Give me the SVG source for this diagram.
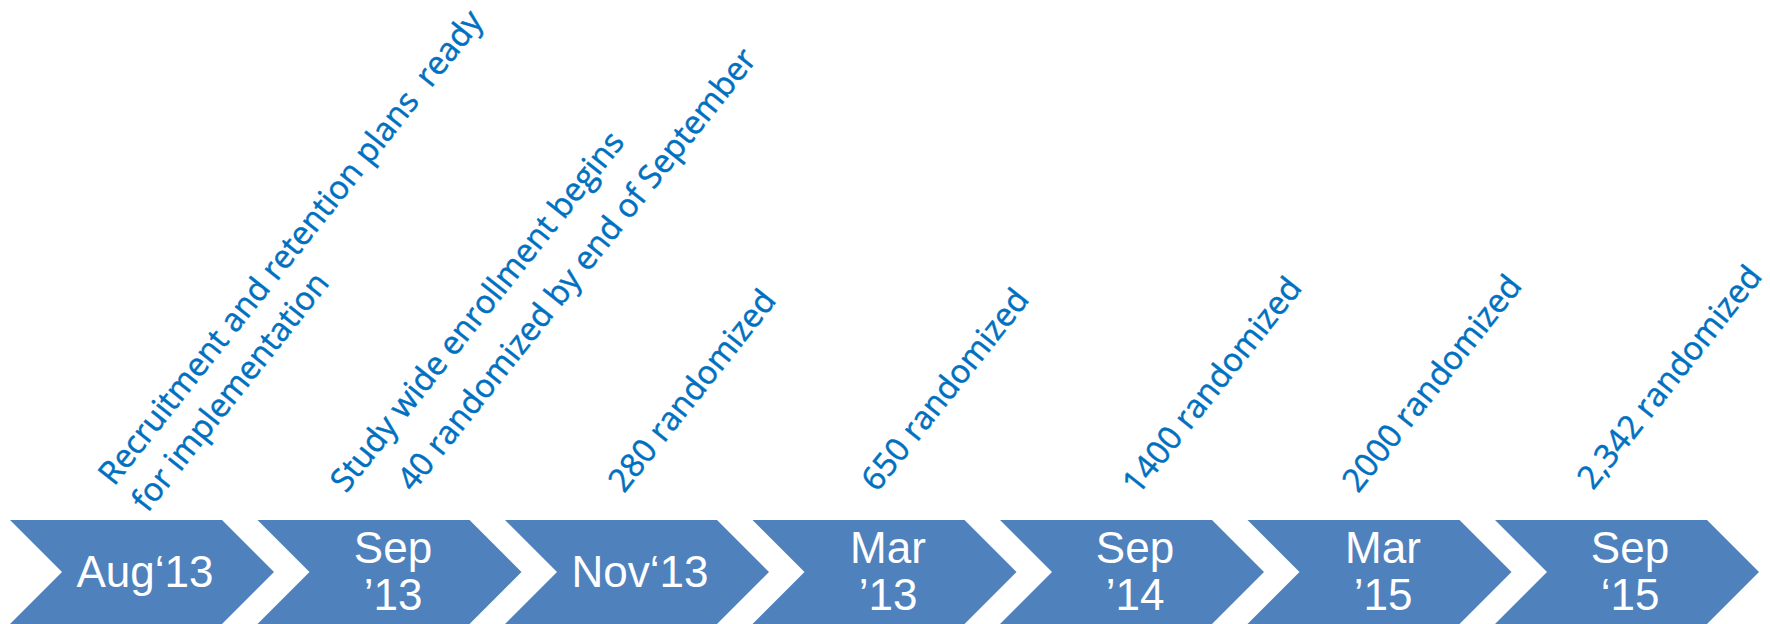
<svg xmlns="http://www.w3.org/2000/svg" width="1770" height="624" viewBox="0 0 1770 624">
<style>
.chev{fill:#4F81BD}
.date{font-family:"Liberation Sans",Arial,sans-serif;font-size:44px;fill:#FFFFFF;text-anchor:middle}
.note{font-family:"Open Sans","Noto Sans",sans-serif;font-size:32.5px;fill:#0070C0;stroke:#0070C0;stroke-width:0.5px;white-space:pre}
</style>
<defs>
<polygon id="chevron" points="0,520 212,520 264,572 212,624 0,624 52,572"/>
</defs>
<rect width="1770" height="624" fill="#FFFFFF"/>
<g id="connectors"></g>
<g id="node-aug13">
<use href="#chevron" class="chev" x="10"/>
<text class="date" x="145" y="587">Aug‘13</text>
</g>
<g id="node-sep13">
<use href="#chevron" class="chev" x="257.5"/>
<text class="date" x="393" y="563">Sep</text>
<text class="date" x="393" y="610">’13</text>
</g>
<g id="node-nov13">
<use href="#chevron" class="chev" x="505"/>
<text class="date" x="640" y="587">Nov‘13</text>
</g>
<g id="node-mar13">
<use href="#chevron" class="chev" x="752.5"/>
<text class="date" x="888" y="563">Mar</text>
<text class="date" x="888" y="610">’13</text>
</g>
<g id="node-sep14">
<use href="#chevron" class="chev" x="1000"/>
<text class="date" x="1135" y="563">Sep</text>
<text class="date" x="1135" y="610">’14</text>
</g>
<g id="node-mar15">
<use href="#chevron" class="chev" x="1247.5"/>
<text class="date" x="1383" y="563">Mar</text>
<text class="date" x="1383" y="610">’15</text>
</g>
<g id="node-sep15">
<use href="#chevron" class="chev" x="1495"/>
<text class="date" x="1630" y="563">Sep</text>
<text class="date" x="1630" y="610">‘15</text>
</g>
<g id="note-recruitment">
<text class="note" transform="translate(114,487) rotate(-51.5)" xml:space="preserve"><tspan x="0" y="0">Recruitment and retention plans  ready</tspan><tspan x="0" y="42.7">for implementation</tspan></text>
</g>
<g id="note-study">
<text class="note" transform="translate(346,494) rotate(-51.5)">Study wide enrollment begins</text>
</g>
<g id="note-40">
<text class="note" transform="translate(413,493) rotate(-51.5)">40 randomized by end of September</text>
</g>
<g id="note-280">
<text class="note" transform="translate(624,494) rotate(-51.5)">280 randomized</text>
</g>
<g id="note-650">
<text class="note" transform="translate(877,493) rotate(-51.5)">650 randomized</text>
</g>
<g id="note-1400">
<text class="note" transform="translate(1138,496) rotate(-51.5)">1400 randomized</text>
</g>
<g id="note-2000">
<text class="note" transform="translate(1358,494) rotate(-51.5)">2000 randomized</text>
</g>
<g id="note-2342">
<text class="note" transform="translate(1593,491) rotate(-51.5)">2,342 randomized</text>
</g>
</svg>
